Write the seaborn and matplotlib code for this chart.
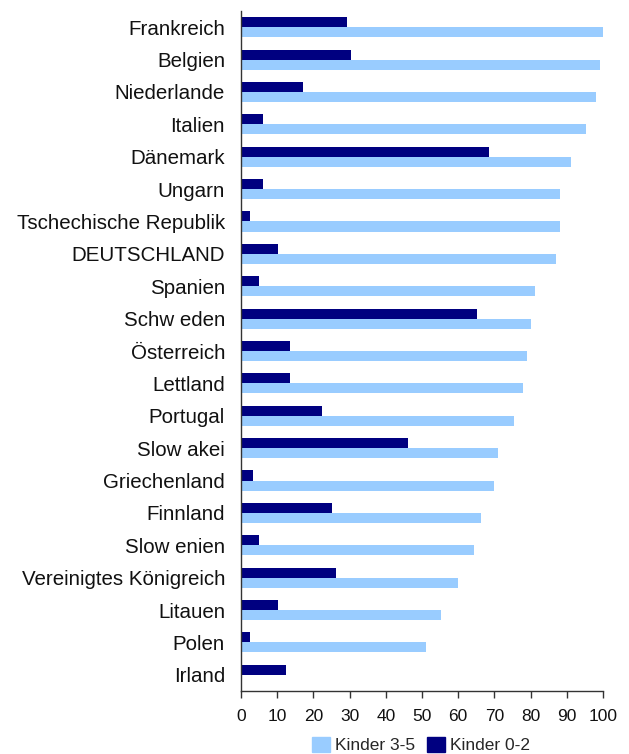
import matplotlib
matplotlib.use("Agg")
import matplotlib.pyplot as plt
import seaborn as sns
import pandas as pd
from matplotlib.patches import Patch

countries = ["Frankreich", "Belgien", "Niederlande", "Italien", "Dänemark", "Ungarn",
             "Tschechische Republik", "DEUTSCHLAND", "Spanien", "Schw eden", "Österreich",
             "Lettland", "Portugal", "Slow akei", "Griechenland", "Finnland", "Slow enien",
             "Vereinigtes Königreich", "Litauen", "Polen", "Irland"]
kinder_0_2 = [29.2, 30.3, 17.0, 6.0, 68.4, 6.0, 2.4, 10.1, 4.9, 65.1, 13.4,
              13.4, 22.3, 46.0, 3.2, 25.0, 4.9, 26.2, 10.1, 2.4, 12.3]
kinder_3_5 = [99.9, 99.1, 98.0, 95.2, 91.1, 88.0, 88.0, 86.9, 81.1, 80.0, 78.9,
              77.8, 75.3, 70.9, 69.8, 66.2, 64.3, 59.9, 55.2, 51.0, 0.0]
series_names = ["Kinder 0-2", "Kinder 3-5"]
colors = {"Kinder 0-2": "#000080", "Kinder 3-5": "#99ccff"}

df = pd.DataFrame({
    "Land": countries * 2,
    "Wert": kinder_0_2 + kinder_3_5,
    "Gruppe": [series_names[0]] * len(countries) + [series_names[1]] * len(countries),
})

sns.set_theme(style="white")
plt.rcParams["font.family"] = ["Liberation Sans", "DejaVu Sans"]

fig = plt.figure(figsize=(6.29, 7.54), dpi=100)
ax = fig.add_axes([241 / 629, 1 - 691 / 754, (603 - 241) / 629, (691 - 11) / 754])

sns.barplot(data=df, y="Land", x="Wert", hue="Gruppe", hue_order=series_names,
            order=countries, palette=colors, orient="h", width=0.62,
            saturation=1, linewidth=0, ax=ax, legend=False)

ax.set_xlim(0, 100)
ax.set_ylim(len(countries) - 0.5, -0.5)
ax.set_xticks(range(0, 101, 10))
ax.set_xlabel("")
ax.set_ylabel("")
for s in ["top", "right"]:
    ax.spines[s].set_visible(False)
for s in ["left", "bottom"]:
    ax.spines[s].set_color("#333333")
    ax.spines[s].set_linewidth(1.0)
ax.tick_params(axis="x", bottom=True, length=5, width=1, color="#333333",
               labelsize=12.5, pad=8, labelcolor="#111111")
ax.tick_params(axis="y", left=False, length=0, labelsize=14.8, pad=11.5,
               labelcolor="#111111")

handles = [Patch(color=colors["Kinder 3-5"], label="Kinder 3-5"),
           Patch(color=colors["Kinder 0-2"], label="Kinder 0-2")]
fig.legend(handles=handles, loc="center", bbox_to_anchor=(421 / 629, 1 - 745 / 754),
           ncol=2, frameon=False, fontsize=12.5, handlelength=1.0, handleheight=1.0,
           handletextpad=0.3, columnspacing=0.7, borderpad=0)

fig.savefig("out.png", dpi=100)
